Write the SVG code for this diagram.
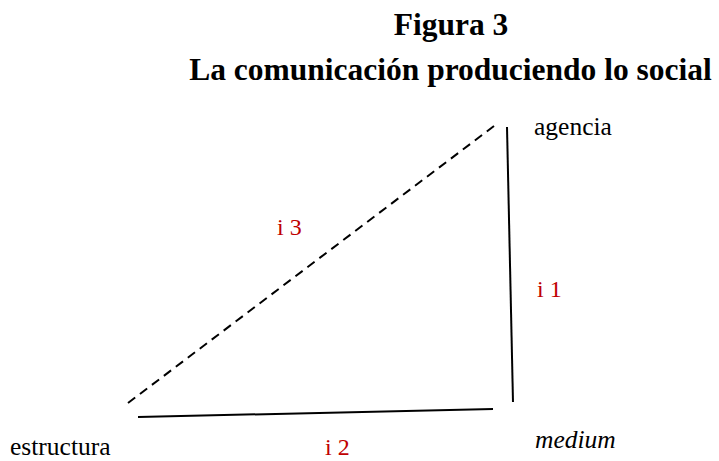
<svg xmlns="http://www.w3.org/2000/svg" width="719" height="461" viewBox="0 0 719 461">
<style>
.t{font-family:"Liberation Serif","Times New Roman",serif;fill:#000}
.h{font-weight:bold;font-size:31.5px}
.l{font-size:25.5px}
.s{font-size:24px}
.r{fill:#c00000}
.ln{stroke:#000;stroke-width:2;fill:none}
</style>
<rect width="719" height="461" fill="#fff"/>
<g id="title">
<text class="t h" x="451" y="35" text-anchor="middle">Figura 3</text>
<text class="t h" x="450.5" y="80" text-anchor="middle">La comunicación produciendo lo social</text>
</g>
<g id="connectors">
<line class="ln" x1="128" y1="403" x2="494" y2="126" stroke-dasharray="9,6"/>
<line class="ln" x1="507" y1="127" x2="513" y2="402"/>
<line class="ln" x1="138" y1="417" x2="493" y2="409"/>
</g>
<g id="agencia"><text class="t l" x="534" y="135">agencia</text></g>
<g id="estructura"><text class="t l" x="10" y="455">estructura</text></g>
<g id="medium"><text class="t l" x="535" y="448" font-style="italic">medium</text></g>
<g id="labels">
<text class="t s r" x="277" y="235">i 3</text>
<text class="t s r" x="537" y="297">i 1</text>
<text class="t s r" x="325" y="455">i 2</text>
</g>
</svg>
